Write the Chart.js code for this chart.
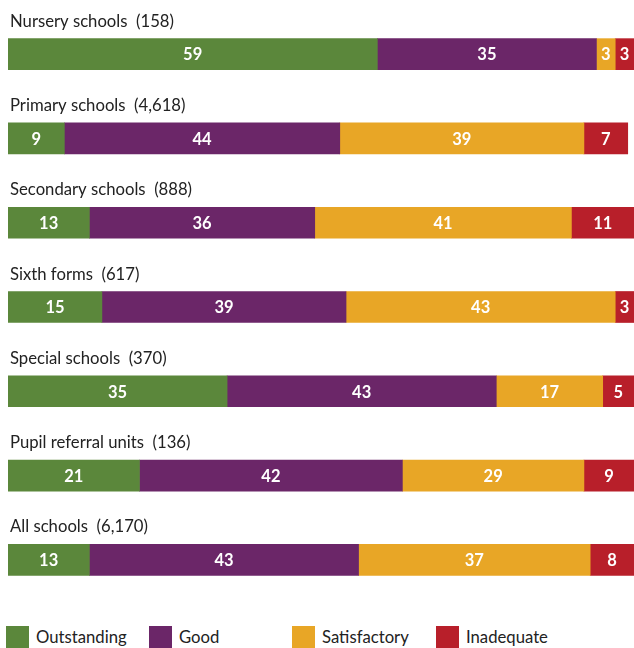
<!DOCTYPE html>
<html>
<head>
<meta charset="utf-8">
<script src="https://cdn.jsdelivr.net/npm/chart.js@4"></script>
<style>
  body { margin: 0; background: #fff; font-family: Lato, "Noto Sans", sans-serif; }
  #wrap { position: relative; width: 634px; height: 648px; }
  #chartBox { position: absolute; left: 0; top: 0; width: 634px; height: 612px; }
  .key { position: absolute; top: 626px; height: 22px; display: flex; align-items: center; font-size: 16.7px; color: #222; }
  .key span { display: inline-block; width: 23px; height: 22px; margin-right: 7px; }
</style>
</head>
<body>
<div id="wrap">
  <div id="chartBox"><canvas id="judgements"></canvas></div>
  <div class="key" style="left:6px"><span style="background:#5b873b"></span>Outstanding</div>
  <div class="key" style="left:149px"><span style="background:#6b2668"></span>Good</div>
  <div class="key" style="left:292px"><span style="background:#e8a626"></span>Satisfactory</div>
  <div class="key" style="left:436px"><span style="background:#b81f2a"></span>Inadequate</div>
</div>
<script>
const categories = ['Nursery schools', 'Primary schools', 'Secondary schools', 'Sixth forms',
                    'Special schools', 'Pupil referral units', 'All schools'];
const counts = ['158', '4,618', '888', '617', '370', '136', '6,170'];

const outstanding  = [59, 9, 13, 15, 35, 21, 13];
const good         = [35, 44, 36, 39, 43, 42, 43];
const satisfactory = [3, 39, 41, 43, 17, 29, 37];
const inadequate   = [3, 7, 11, 3, 5, 9, 8];

// category name + number inspected, written above each bar
const rowTitles = {
    id: 'rowTitles',
    afterDatasetsDraw(chart) {
        const ctx = chart.ctx;
        const meta = chart.getDatasetMeta(0);
        ctx.save();
        ctx.font = '16.7px Lato, "Noto Sans", sans-serif';
        ctx.fillStyle = '#222';
        ctx.textAlign = 'left';
        ctx.textBaseline = 'alphabetic';
        meta.data.forEach((bar, i) => {
            const top = bar.y - bar.height / 2;
            ctx.fillText(categories[i] + '  (' + counts[i] + ')', 10, top - 12);
        });
        ctx.restore();
    }
};

// percentage written in the middle of every segment
const segmentValues = {
    id: 'segmentValues',
    afterDatasetsDraw(chart) {
        const ctx = chart.ctx;
        ctx.save();
        ctx.font = 'bold 16.5px Lato, "Noto Sans", sans-serif';
        ctx.fillStyle = '#fff';
        ctx.textAlign = 'center';
        ctx.textBaseline = 'middle';
        chart.data.datasets.forEach((ds, d) => {
            chart.getDatasetMeta(d).data.forEach((bar, i) => {
                const left = Math.min(bar.base, bar.x);
                const right = Math.min(Math.max(bar.base, bar.x), chart.chartArea.right);
                ctx.fillText(String(ds.data[i]), (left + right) / 2, bar.y + 1);
            });
        });
        ctx.restore();
    }
};

const ctx = document.getElementById('judgements').getContext('2d');
const judgements = new Chart(ctx, {
    type: 'bar',
    data: {
        labels: categories,
        datasets: [
            { label: 'Outstanding', data: outstanding, backgroundColor: '#5b873b' },
            { label: 'Good', data: good, backgroundColor: '#6b2668' },
            { label: 'Satisfactory', data: satisfactory, backgroundColor: '#e8a626' },
            { label: 'Inadequate', data: inadequate, backgroundColor: '#b81f2a' }
        ]
    },
    options: {
        indexAxis: 'y',
        responsive: true,
        maintainAspectRatio: false,
        animation: false,
        datasets: { bar: { barThickness: 31, borderWidth: 0 } },
        layout: { padding: { left: 8, right: 0, top: 12, bottom: 10 } },
        plugins: {
            legend: { display: false },
            tooltip: { enabled: false }
        },
        scales: {
            x: { stacked: true, min: 0, max: 100, display: false },
            y: { stacked: true, display: false }
        }
    },
    plugins: [rowTitles, segmentValues]
});
</script>
</body>
</html>
